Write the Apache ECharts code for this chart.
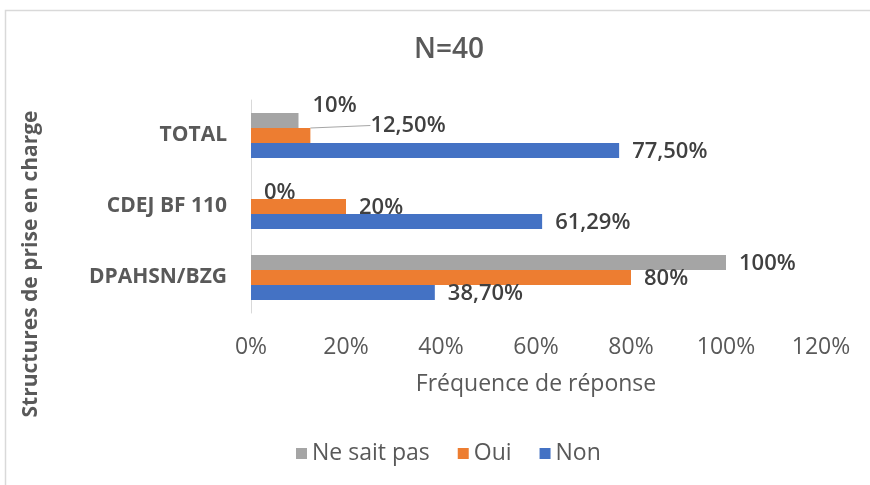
<!DOCTYPE html>
<html>
<head>
<meta charset="utf-8">
<script src="https://cdn.jsdelivr.net/npm/echarts@6/dist/echarts.min.js"></script>
<style>
  html, body { margin: 0; padding: 0; background: #fff; }
  #chart { width: 870px; height: 485px; }
</style>
</head>
<body>
<div id="chart"></div>
<script>
// categories, bottom to top as drawn
var categories = ['DPAHSN/BZG', 'CDEJ BF 110', 'TOTAL'];
var nonValues = [38.70, 61.29, 77.50];
var ouiValues = [80, 20, 12.50];
var nspValues = [100, 0, 10];
var xTicks = [0, 20, 40, 60, 80, 100, 120];

// label nudges (series name -> dataIndex -> [dx, dy])
var labelNudge = {
    'Ne sait pas': { 2: [1, -15] },
    'Oui': { 2: [47, -10] }
};

var font = '"Open Sans", sans-serif';

function fmt(v) {
    var s = (Math.round(v * 100) / 100).toString();
    if (s.indexOf('.') >= 0) {
        var parts = s.split('.');
        if (parts[1].length < 2) parts[1] += '0';
        s = parts[0] + ',' + parts[1];
    }
    return s + '%';
}

function makeSeries(name, values, color) {
    return {
        name: name,
        type: 'bar',
        data: values.map(function (v, i) {
            var guide = name === 'Oui' && i === 2;
            return { value: v, labelLine: { show: guide } };
        }),
        barWidth: 15,
        barGap: '0%',
        itemStyle: { color: color },
        label: {
            show: true,
            position: 'right',
            distance: 13,
            fontFamily: font,
            fontSize: 22,
            fontWeight: 600,
            color: '#404040',
            formatter: function (p) { return fmt(p.value); }
        },
        labelLine: {
            show: false,
            lineStyle: { color: '#a6a6a6', width: 1 }
        },
        labelLayout: function (p) {
            var n = labelNudge[name] && labelNudge[name][p.dataIndex];
            if (n) return { dx: n[0], dy: n[1] };
            return { dy: 1 };
        }
    };
}

var chart = echarts.init(document.getElementById('chart'));
chart.setOption({
    animation: false,
    backgroundColor: '#fff',
    title: {
        text: 'N=40',
        left: 409,
        top: 31,
        textStyle: { fontFamily: font, fontSize: 28, fontWeight: 600, color: '#595959' }
    },
    legend: {
        data: ['Ne sait pas', 'Oui', 'Non'],
        left: 291,
        top: 437,
        icon: 'rect',
        itemWidth: 11,
        itemHeight: 11,
        itemGap: 28,
        textStyle: { fontFamily: font, fontSize: 23, color: '#595959' }
    },
    grid: { left: 251, right: 49, top: 100, bottom: 172 },
    xAxis: {
        type: 'value',
        min: xTicks[0],
        max: xTicks[xTicks.length - 1],
        interval: 20,
        axisLine: { show: false },
        axisTick: { show: false },
        splitLine: { show: false },
        axisLabel: {
            formatter: '{value}%',
            margin: 23,
            fontFamily: font,
            fontSize: 23,
            color: '#595959'
        },
        name: 'Fréquence de réponse',
        nameLocation: 'middle',
        nameGap: 60,
        nameTextStyle: { fontFamily: font, fontSize: 23, color: '#595959' }
    },
    yAxis: {
        type: 'category',
        data: categories,
        axisLine: { show: true, lineStyle: { color: '#d9d9d9', width: 1 } },
        axisTick: { show: false },
        axisLabel: {
            margin: 24,
            fontFamily: font,
            fontSize: 21,
            fontWeight: 'bold',
            color: '#595959'
        }
    },
    graphic: [
        {
            type: 'rect',
            shape: { x: 5.5, y: 10.5, width: 900, height: 500 },
            style: { fill: 'none', stroke: '#d9d9d9', lineWidth: 1.5 },
            silent: true
        },
        {
            type: 'text',
            x: 31,
            y: 264,
            rotation: Math.PI / 2,
            style: {
                text: 'Structures de prise en charge',
                font: 'bold 21px "Open Sans", sans-serif',
                fill: '#595959',
                align: 'center',
                verticalAlign: 'middle'
            }
        }
    ],
    series: [
        makeSeries('Ne sait pas', nspValues, '#a5a5a5'),
        makeSeries('Oui', ouiValues, '#ed7d31'),
        makeSeries('Non', nonValues, '#4472c4')
    ]
});
</script>
</body>
</html>
